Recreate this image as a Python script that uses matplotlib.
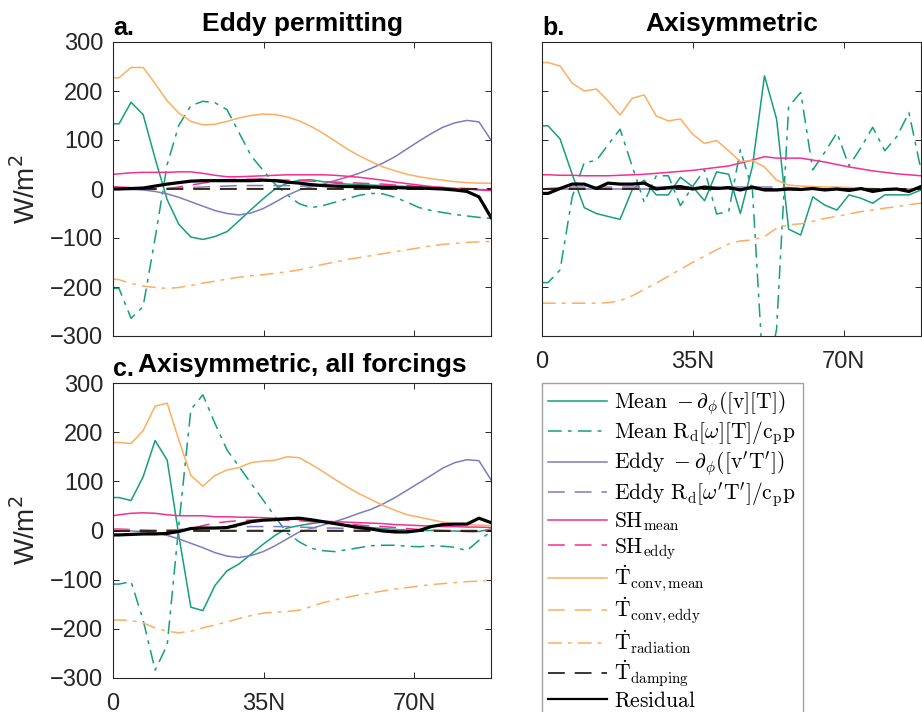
import matplotlib.pyplot as plt
from matplotlib.lines import Line2D

plt.rcParams['font.family'] = ['Liberation Sans', 'DejaVu Sans']
plt.rcParams['mathtext.fontset'] = 'cm'

# latitude grid (degrees north)
lat = [0, 1.4, 4.2, 7.0, 9.8, 12.6, 15.3, 18.1, 20.9, 23.7, 26.5, 29.3, 32.1,
       34.9, 37.7, 40.5, 43.3, 46.0, 48.8, 51.6, 54.4, 57.2, 60.0, 62.8, 65.6,
       68.4, 71.2, 74.0, 76.7, 79.5, 82.3, 85.1, 87.9]

# ---- a. eddy permitting (W/m^2)
a_mean_div = [133, 133, 177, 152, 62, -22, -72, -98, -103, -97, -87, -65, -42,
              -20, 0, 12, 18, 19, 15, 12, 10, 9, 8, 7, 6,
              5, 4, 3, 2, 1, 0, -1, -2]
a_mean_omega = [-203, -203, -264, -240, -100, 50, 130, 170, 179, 176, 162, 115, 68,
                38, 10, -12, -30, -38, -34, -27, -20, -13, -9, -10, -17,
                -27, -38, -44, -48, -52, -55, -58, -60]
a_eddy_div = [0, 0, -1, -2, -5, -10, -17, -26, -35, -44, -50, -53, -49,
              -40, -27, -13, -2, 4, 10, 17, 24, 32, 42, 53, 66,
              82, 98, 113, 126, 135, 140, 137, 100]
a_eddy_omega = [0, 0, 0, 0, 0, 1, 2, 3, 4, 5, 6, 7, 7,
                7, 7, 7, 6, 6, 5, 5, 4, 3, 3, 2, 2,
                1, 1, 1, 0, 0, 0, 0, 0]
a_sh_mean = [30, 31, 33, 34, 34, 34, 35, 35, 32, 28, 25, 25, 26,
             27, 28, 29, 29, 29, 29, 28, 26, 24, 21, 18, 14,
             11, 8, 5, 3, 1, 0, -2, -3]
a_sh_eddy = [5, 4, 3, 1, 0, 1, 4, 8, 12, 16, 19, 20, 20,
             20, 19, 18, 17, 16, 15, 14, 13, 12, 11, 10, 8,
             7, 5, 4, 3, 2, 1, 0, 0]
a_conv_mean = [227, 227, 248, 248, 215, 180, 155, 138, 131, 132, 138, 145, 150,
               153, 152, 147, 139, 128, 114, 98, 82, 68, 56, 45, 37,
               30, 25, 21, 18, 15, 13, 12, 12]
a_conv_eddy = [0, 0, 0, 0, 0, 0, 0, 1, 1, 1, 1, 1, 1,
               1, 1, 1, 1, 1, 1, 1, 1, 1, 0, 0, 0,
               0, 0, 0, 0, 0, 0, 0, 0]
a_radiation = [-184, -185, -193, -198, -201, -203, -201, -197, -192, -188, -184, -180, -177,
               -175, -172, -169, -165, -160, -154, -149, -144, -140, -136, -132, -128,
               -124, -120, -116, -113, -111, -109, -108, -107]
a_damping = [0, 0, 0, 0, 0, 0, 0, 0, 0, 0, 0, 0, 0,
             0, 0, 0, 0, 0, 0, 0, 0, 0, 0, 0, 0,
             0, 0, 0, 0, 0, 0, 0, 0]
a_residual = [0, 0, 1, 2, 6, 10, 13, 16, 17, 17, 17, 17, 17,
              18, 17, 14, 12, 9, 7, 6, 5, 5, 4, 3, 3,
              2, 2, 1, 0, -2, -5, -16, -58]

# ---- b. axisymmetric
b_mean_div = [129, 129, 102, 30, -38, -50, -56, -62, -2, 18, -12, -12, 24,
              5, -24, 35, 30, -50, 46, 231, 143, -82, -94, -16, -33,
              -43, -12, -19, -29, -12, -12, -12, -2]
b_mean_omega = [-191, -191, -165, -16, 54, 58, 90, 122, 47, -27, 27, 27, -34,
                5, 39, -51, -46, 80, -2, -420, -286, 168, 197, 39, 75,
                115, 47, 85, 126, 78, 107, 156, 39]
b_eddy_div = [0, 0, 0, 0, 0, 0, 0, 0, 0, 0, 0, 0, 0,
              0, 0, 0, 0, 0, 0, 0, 0, 0, 0, 0, 0,
              0, 0, 0, 0, 0, 0, 0, 0]
b_eddy_omega = [0, 1, 3, 4, 4, 4, 4, 4, 4, 4, 4, 4, 4,
                4, 4, 4, 4, 4, 4, 4, 4, 3, 1, 0, 0,
                0, 0, 0, 0, 0, 0, 0, 0]
b_sh_mean = [29, 29, 28, 28, 27, 27, 27, 28, 29, 30, 32, 34, 36,
             38, 41, 44, 47, 53, 59, 66, 63, 63, 63, 59, 55,
             50, 45, 41, 37, 34, 31, 29, 27]
b_sh_eddy = [0, 0, 0, 0, 0, 0, 0, 0, 0, 0, 0, 0, 0,
             0, 0, 0, 0, 0, 0, 0, 0, 0, 0, 0, 0,
             0, 0, 0, 0, 0, 0, 0, 0]
b_conv_mean = [258, 258, 251, 216, 200, 204, 180, 151, 185, 192, 149, 139, 143,
               112, 93, 99, 78, 56, 58, 45, 18, 8, 6, 5, 4,
               4, 3, 2, 1, 0, 0, -1, 3]
b_conv_eddy = [0, 0, 0, 0, 0, 0, 0, 0, 0, 0, 0, 0, 0,
               0, 0, 0, 0, 0, 0, -2, -3, -2, -1, 0, 0,
               -1, -1, -2, -3, -2, -1, -2, 0]
b_radiation = [-233, -233, -233, -233, -233, -233, -232, -228, -218, -205, -192, -178, -164,
               -150, -137, -124, -112, -106, -104, -97, -80, -73, -71, -66, -60,
               -56, -51, -46, -43, -39, -36, -32, -29]
b_damping = [0, 0, 0, 0, 0, 0, 0, 0, 0, 0, 0, 0, 0,
             0, 0, 0, 0, 0, 0, 0, 0, 0, 0, 0, 0,
             0, 0, 0, 0, 0, 0, 0, 0]
b_residual = [-9, -9, 1, 10, 10, 1, 12, 10, 10, 12, 0, 3, 5,
              0, 4, 1, 3, -2, 4, -2, -2, 0, -1, 1, -2,
              0, -3, 1, -5, -1, 0, -5, 5]

# ---- c. axisymmetric, all forcings
c_mean_div = [67, 67, 61, 109, 183, 143, -10, -156, -163, -112, -82, -68, -48,
              -28, -10, 5, 10, 14, 17, 14, 11, 8, 6, 4, 2,
              1, 0, 0, -1, -1, -2, -2, 3]
c_mean_omega = [-109, -109, -104, -182, -284, -233, 10, 246, 276, 218, 164, 130, 96,
                62, 28, -5, -23, -36, -41, -43, -39, -35, -31, -30, -30,
                -32, -33, -31, -32, -34, -41, -20, -2]
c_eddy_div = [0, 0, -1, -2, -5, -10, -17, -26, -35, -45, -52, -55, -51,
              -43, -31, -17, -3, 4, 11, 18, 26, 35, 43, 54, 67,
              82, 97, 112, 127, 138, 144, 142, 103]
c_eddy_omega = [0, 0, 0, 0, 0, 1, 2, 3, 4, 5, 6, 7, 8,
                8, 8, 8, 7, 6, 5, 5, 4, 3, 3, 2, 2,
                1, 1, 0, 0, 0, 0, 0, 0]
c_sh_mean = [30, 32, 35, 36, 35, 32, 30, 30, 30, 28, 28, 27, 27,
             26, 25, 24, 22, 21, 19, 18, 17, 16, 15, 14, 12,
             11, 10, 9, 8, 8, 7, 7, 6]
c_sh_eddy = [3, 3, 2, 1, 0, 0, 1, 4, 10, 15, 18, 20, 21,
             22, 22, 21, 20, 18, 16, 15, 13, 11, 9, 8, 6,
             4, 2, 1, 0, -1, -2, -2, 1]
c_conv_mean = [179, 179, 177, 203, 253, 259, 184, 112, 90, 112, 123, 128, 138,
               141, 143, 150, 148, 135, 120, 104, 89, 75, 63, 51, 41,
               32, 27, 22, 17, 14, 12, 11, 10]
c_conv_eddy = [0, 0, 0, 0, 0, 0, 0, 0, 1, 1, 1, 1, 1,
               1, 1, 1, 1, 1, 1, 1, 1, 1, 0, 0, 0,
               0, 0, 0, 0, 0, 0, 0, 0]
c_radiation = [-182, -182, -183, -188, -198, -205, -208, -205, -198, -192, -186, -179, -173,
               -168, -166, -165, -162, -155, -147, -141, -136, -131, -127, -123, -119,
               -116, -113, -110, -108, -106, -104, -103, -101]
c_damping = [0, 0, 0, 0, 0, 0, 0, 0, 0, 0, 0, 0, 0,
             0, 0, 0, 0, 0, 0, 0, 0, 0, 0, 0, 0,
             0, 0, 0, 0, 0, 0, 0, 0]
c_residual = [-9, -9, -8, -7, -7, -6, -2, 4, 5, 5, 6, 12, 18,
              21, 22, 24, 25, 22, 18, 14, 10, 6, 3, -1, -3,
              -3, 0, 8, 12, 13, 13, 25, 16]

labels = [r'$\mathrm{Mean}\ -\partial_\phi([\mathrm{v}][\mathrm{T}])$',
          r'$\mathrm{Mean}\ \mathrm{R_d}[\omega][\mathrm{T}]/\mathrm{c_p p}$',
          r"$\mathrm{Eddy}\ -\partial_\phi([\mathrm{v'T'}])$",
          r"$\mathrm{Eddy}\ \mathrm{R_d}[\omega'\mathrm{T'}]/\mathrm{c_p p}$",
          r'$\mathrm{SH_{mean}}$',
          r'$\mathrm{SH_{eddy}}$',
          r'$\dot{\mathrm{T}}_\mathrm{conv,mean}$',
          r'$\dot{\mathrm{T}}_\mathrm{conv,eddy}$',
          r'$\dot{\mathrm{T}}_\mathrm{radiation}$',
          r'$\dot{\mathrm{T}}_\mathrm{damping}$',
          r'$\mathrm{Residual}$']

green, purple, pink, orange = '#14a07b', '#7f7bbf', '#f52f91', '#fdae61'
dash = (11, 6.5)
dashdot = (9, 4, 2.5, 4)
styles = [(green, None, 1.1), (green, dashdot, 1.1),
          (purple, None, 1.1), (purple, dash, 1.1),
          (pink, None, 1.1), (pink, dash, 1.1),
          (orange, None, 1.1), (orange, dash, 1.1), (orange, dashdot, 1.1),
          ('black', dash, 1.1), ('black', None, 2.3)]

panels = {
    'a': [a_mean_div, a_mean_omega, a_eddy_div, a_eddy_omega, a_sh_mean, a_sh_eddy,
          a_conv_mean, a_conv_eddy, a_radiation, a_damping, a_residual],
    'b': [b_mean_div, b_mean_omega, b_eddy_div, b_eddy_omega, b_sh_mean, b_sh_eddy,
          b_conv_mean, b_conv_eddy, b_radiation, b_damping, b_residual],
    'c': [c_mean_div, c_mean_omega, c_eddy_div, c_eddy_omega, c_sh_mean, c_sh_eddy,
          c_conv_mean, c_conv_eddy, c_radiation, c_damping, c_residual],
}
titles = {'a': 'Eddy permitting', 'b': 'Axisymmetric', 'c': 'Axisymmetric, all forcings'}

W, H = 922, 712
fig = plt.figure(figsize=(W / 100, H / 100), dpi=100)
boxes = {'a': (113, 42, 491, 336), 'b': (542, 42, 921, 336), 'c': (113, 383, 491, 678)}
axes = {}
for key, (x0, y0, x1, y1) in boxes.items():
    axes[key] = fig.add_axes([x0 / W, 1 - y1 / H, (x1 - x0) / W, (y1 - y0) / H])

tick_col = '#262626'
for key, ax in axes.items():
    for series, (col, dsh, lw) in zip(panels[key], styles):
        line, = ax.plot(lat, series, color=col, lw=lw)
        if dsh is not None:
            line.set_dashes(dsh)
    ax.set_xlim(0, 87.9)
    ax.set_ylim(-300, 300)
    ax.set_xticks([0, 35, 70])
    ax.set_xticklabels(['0', '35N', '70N'])
    ax.set_yticks([-300, -200, -100, 0, 100, 200, 300])
    ax.tick_params(direction='in', top=True, right=True, length=4.5, width=0.7,
                   labelsize=17, colors=tick_col, labelcolor=tick_col)
    ax.tick_params(axis='x', pad=11)
    ax.tick_params(axis='y', pad=7)
    for sp in ax.spines.values():
        sp.set_color(tick_col)
        sp.set_linewidth(0.8)
    ax.set_title(titles[key], fontsize=19, fontweight='bold', pad=8)
    ax.text(0, 1.024, key + '.', transform=ax.transAxes, ha='left', va='baseline',
            fontsize=18, fontweight='bold')

axes['a'].tick_params(labelbottom=False)
axes['b'].tick_params(labelleft=False)
for key in ('a', 'c'):
    axes[key].set_ylabel('W/m$^2$', fontsize=20, color=tick_col, math_fontfamily='dejavusans')
    axes[key].yaxis.set_label_coords(-0.19, 0.5)

handles = []
for col, dsh, lw in styles:
    h = Line2D([], [], color=col, lw=lw if lw < 2 else 1.6)
    if dsh is not None:
        h.set_dashes(dsh)
    handles.append(h)
leg = fig.legend(handles, labels, loc='upper left', bbox_to_anchor=(542 / W, 1 - 383 / H),
                 fontsize=15.5, frameon=True, fancybox=False, edgecolor='#8a8a8a',
                 handlelength=2.7, handletextpad=0.35, labelspacing=0.1, borderpad=0.3,
                 borderaxespad=0)
leg.get_frame().set_linewidth(1.0)

fig.savefig('out.png', dpi=100)
